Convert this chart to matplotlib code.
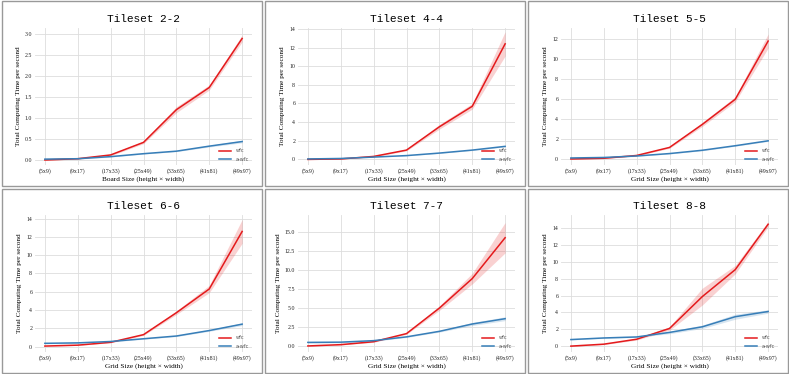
import numpy as np
import matplotlib
matplotlib.use("Agg")
import matplotlib.pyplot as plt
from matplotlib.patches import Rectangle

grid_labels = ["(5x9)", "(9x17)", "(17x33)", "(25x49)", "(33x65)", "(41x81)", "(49x97)"]
titles = ["Tileset 2-2", "Tileset 4-4", "Tileset 5-5", "Tileset 6-6", "Tileset 7-7", "Tileset 8-8"]
xlabels = ["Board Size (height \u00d7 width)"] + ["Grid Size (height \u00d7 width)"] * 5
series_names = ["wfc", "a-wfc"]

# red series (mean) per tileset
red_22 = [0.0, 0.03, 0.12, 0.42, 1.2, 1.73, 2.9]
red_44 = [0.0, 0.05, 0.32, 1.0, 3.5, 5.7, 12.4]
red_55 = [0.05, 0.12, 0.4, 1.2, 3.5, 6.0, 11.8]
red_66 = [0.05, 0.15, 0.46, 1.3, 3.7, 6.3, 12.6]
red_77 = [0.0, 0.17, 0.56, 1.63, 5.0, 8.9, 14.3]
red_88 = [0.0, 0.23, 0.82, 2.1, 5.9, 9.1, 14.5]

# blue series (mean)
blue_22 = [0.02, 0.03, 0.08, 0.15, 0.21, 0.33, 0.44]
blue_44 = [0.05, 0.1, 0.25, 0.41, 0.68, 1.0, 1.4]
blue_55 = [0.15, 0.2, 0.35, 0.59, 0.92, 1.37, 1.86]
blue_66 = [0.35, 0.4, 0.55, 0.85, 1.15, 1.75, 2.45]
blue_77 = [0.47, 0.5, 0.7, 1.2, 1.93, 2.9, 3.6]
blue_88 = [0.78, 0.97, 1.09, 1.63, 2.3, 3.5, 4.12]

# half widths of the shaded bands
red_err_22 = [0.01, 0.01, 0.02, 0.03, 0.07, 0.06, 0.08]
red_err_44 = [0.02, 0.02, 0.05, 0.08, 0.25, 0.3, 1.3]
red_err_55 = [0.02, 0.03, 0.05, 0.08, 0.2, 0.25, 0.7]
red_err_66 = [0.02, 0.03, 0.05, 0.08, 0.2, 0.4, 1.3]
red_err_77 = [0.03, 0.05, 0.08, 0.1, 0.3, 0.7, 2.0]
red_err_88 = [0.03, 0.05, 0.1, 0.2, 1.0, 0.5, 0.3]
blue_err_22 = [0.01, 0.01, 0.01, 0.01, 0.01, 0.02, 0.03]
blue_err_44 = [0.02, 0.02, 0.02, 0.03, 0.04, 0.05, 0.06]
blue_err_55 = [0.05, 0.05, 0.04, 0.04, 0.05, 0.05, 0.06]
blue_err_66 = [0.05, 0.05, 0.05, 0.05, 0.06, 0.08, 0.15]
blue_err_77 = [0.1, 0.08, 0.08, 0.08, 0.1, 0.2, 0.25]
blue_err_88 = [0.05, 0.05, 0.05, 0.15, 0.2, 0.3, 0.2]

reds = [red_22, red_44, red_55, red_66, red_77, red_88]
blues = [blue_22, blue_44, blue_55, blue_66, blue_77, blue_88]
red_errs = [red_err_22, red_err_44, red_err_55, red_err_66, red_err_77, red_err_88]
blue_errs = [blue_err_22, blue_err_44, blue_err_55, blue_err_66, blue_err_77, blue_err_88]

yticks = [np.arange(0, 3.01, 0.5), np.arange(0, 14.1, 2), np.arange(0, 12.1, 2),
          np.arange(0, 14.1, 2), np.arange(0, 15.1, 2.5), np.arange(0, 14.1, 2)]
ylims = [(-0.12, 3.15), (-0.6, 14.1), (-0.55, 13.1), (-0.6, 14.4), (-0.8, 17.3), (-0.7, 15.6)]

RED = "#e41a1c"
BLUE = "#377eb8"

W, H = 789, 374
fig = plt.figure(figsize=(W / 100, H / 100), dpi=100)
fig.patch.set_facecolor("white")

x = np.arange(len(grid_labels))
for i in range(6):
    row, col = divmod(i, 3)
    cx = col * 263
    cy = H - (row + 1) * 187  # bottom of the cell in pixels

    # gray frame round each panel
    fig.patches.append(Rectangle(((cx + 1.5) / W, (cy + 1.5) / H), 260 / W, 184 / H,
                                 transform=fig.transFigure, fill=False,
                                 edgecolor="#999999", linewidth=1.0))

    ax = fig.add_axes([(cx + 35) / W, (cy + 22) / H, 217 / W, 137 / H])
    ax.set_facecolor("white")
    for s in ax.spines.values():
        s.set_visible(False)
    ax.grid(True, color="#dddddd", linewidth=0.6)
    ax.set_axisbelow(True)

    r = np.array(reds[i]); b = np.array(blues[i])
    re = np.array(red_errs[i]); be = np.array(blue_errs[i])
    ax.fill_between(x, r - re, r + re, color=RED, alpha=0.2, linewidth=0)
    ax.fill_between(x, b - be, b + be, color=BLUE, alpha=0.2, linewidth=0)
    ax.plot(x, r, color=RED, linewidth=1.1, label=series_names[0])
    ax.plot(x, b, color=BLUE, linewidth=1.1, label=series_names[1])

    ax.set_xticks(x)
    ax.set_xticklabels(grid_labels, fontsize=4.2, family="Liberation Serif")
    ax.set_yticks(yticks[i])
    if i in (0, 4):
        ax.set_yticklabels(["%.1f" % v for v in yticks[i]], fontsize=4.2, family="Liberation Serif")
    else:
        ax.set_yticklabels(["%d" % v for v in yticks[i]], fontsize=4.2, family="Liberation Serif")
    ax.tick_params(length=0, pad=2, colors="#222222")
    ax.set_xlim(-0.3, 6.3)
    ax.set_ylim(*ylims[i])

    ax.set_title(titles[i], fontsize=8, family="Liberation Mono", pad=4)
    ax.set_xlabel(xlabels[i], fontsize=5.2, family="Liberation Serif", labelpad=2)
    ax.set_ylabel("Total Computing Time per second", fontsize=5.2, family="Liberation Serif", labelpad=3)

    leg = ax.legend(loc="lower right", frameon=False, fontsize=3.6, handlelength=2.5,
                    borderaxespad=0.25, labelspacing=0.7)
    for t in leg.get_texts():
        t.set_color("#555555")

fig.savefig("out.png", dpi=100)
